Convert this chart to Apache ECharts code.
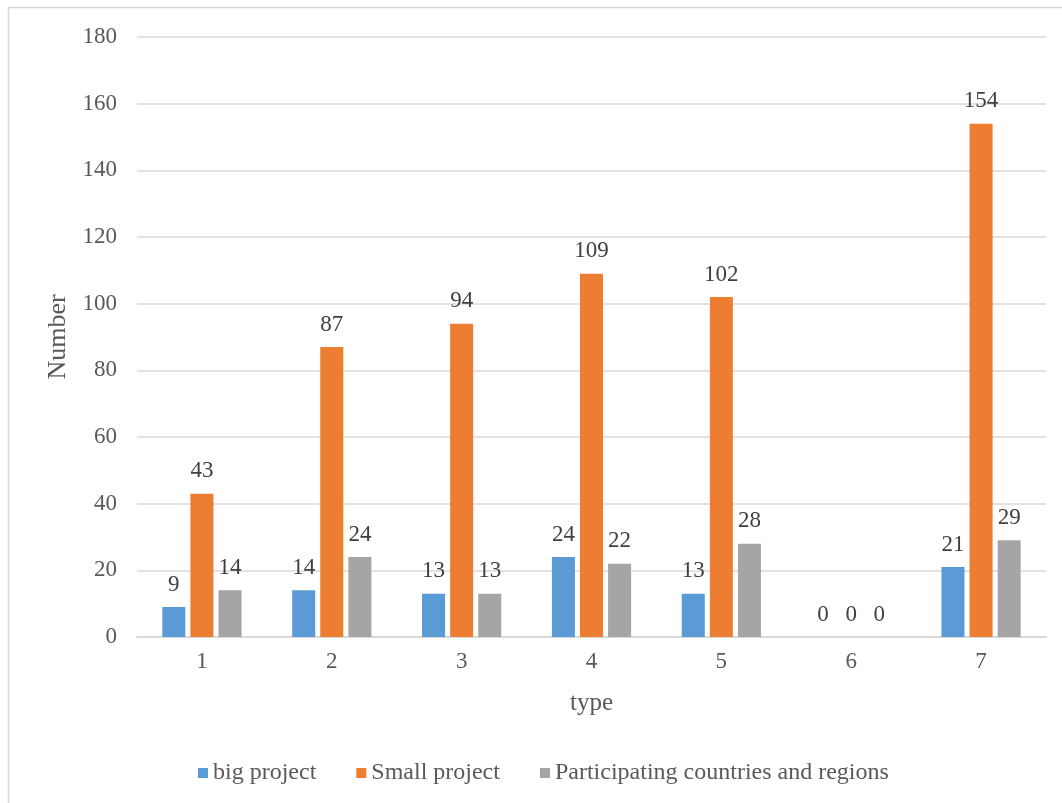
<!DOCTYPE html>
<html>
<head>
<meta charset="utf-8">
<script src="https://cdn.jsdelivr.net/npm/echarts@6/dist/echarts.min.js"></script>
<style>
  html, body { margin: 0; padding: 0; background: #fff; }
  #chart { width: 1062px; height: 803px; }
</style>
</head>
<body>
<div id="chart"></div>
<script>
const categories = ['1', '2', '3', '4', '5', '6', '7']
const bigProject = [9, 14, 13, 24, 13, 0, 21]
const smallProject = [43, 87, 94, 109, 102, 0, 154]
const participating = [14, 24, 13, 22, 28, 0, 29]
const seriesNames = ['big project', 'Small project', 'Participating countries and regions']
const colors = ['#5b9bd5', '#ed7d31', '#a5a5a5']

const font = '"Liberation Serif", "Times New Roman", serif'

const chart = echarts.init(document.getElementById('chart'))

function makeSeries(name, data, color) {
  return {
    name: name,
    type: 'bar',
    data: data,
    barGap: '22%',
    barCategoryGap: '39%',
    itemStyle: { color: color },
    label: {
      show: true,
      position: 'top',
      distance: 11,
      fontFamily: font,
      fontSize: 23,
      color: '#404040'
    },
    animation: false
  }
}

chart.setOption({
  color: colors,
  graphic: [
    {
      type: 'rect',
      shape: { x: 8.5, y: 7.5, width: 2000, height: 2000 },
      style: { fill: 'none', stroke: '#d9d9d9', lineWidth: 1.5 },
      silent: true
    }
  ],
  grid: {
    left: 137,
    right: 16,
    top: 37,
    bottom: 166
  },
  legend: {
    data: seriesNames,
    bottom: 13,
    left: 193,
    itemWidth: 10,
    itemHeight: 10,
    itemGap: 40,
    icon: 'rect',
    textStyle: {
      fontFamily: font,
      fontSize: 24,
      color: '#595959'
    }
  },
  xAxis: {
    type: 'category',
    data: categories,
    name: 'type',
    nameLocation: 'middle',
    nameGap: 54,
    nameTextStyle: { fontFamily: font, fontSize: 25, color: '#595959' },
    axisLine: { lineStyle: { color: '#d9d9d9', width: 2 } },
    axisTick: { show: false },
    axisLabel: {
      margin: 13,
      fontFamily: font,
      fontSize: 23,
      color: '#595959'
    }
  },
  yAxis: {
    type: 'value',
    min: 0,
    max: 180,
    interval: 20,
    name: 'Number',
    nameLocation: 'middle',
    nameGap: 64,
    nameRotate: 90,
    nameTextStyle: { fontFamily: font, fontSize: 26, color: '#595959' },
    axisLine: { show: false },
    axisTick: { show: false },
    axisLabel: {
      margin: 20,
      fontFamily: font,
      fontSize: 23,
      color: '#595959'
    },
    splitLine: { lineStyle: { color: '#d9d9d9', width: 1.5 } }
  },
  series: [
    makeSeries(seriesNames[0], bigProject, colors[0]),
    makeSeries(seriesNames[1], smallProject, colors[1]),
    makeSeries(seriesNames[2], participating, colors[2])
  ]
})
</script>
</body>
</html>
